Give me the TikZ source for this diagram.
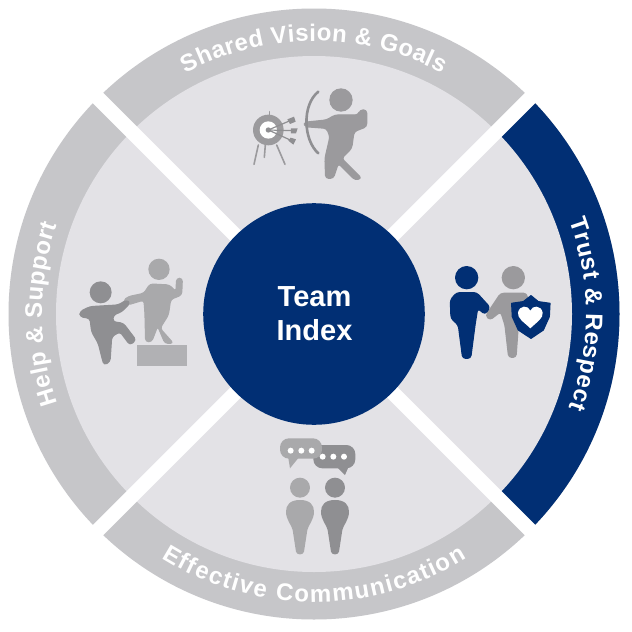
\documentclass[tikz,border=0pt]{standalone}
\usepackage{fontspec}
\setmainfont{Liberation Sans}
\definecolor{navy}{HTML}{012F74}
\definecolor{band}{HTML}{C6C6C9}
\definecolor{disc}{HTML}{E3E2E6}
\definecolor{gA}{HTML}{A9A9AB}
\definecolor{gB}{HTML}{8F8F92}
\definecolor{gC}{HTML}{9B9A9D}
\newcommand{\ringfont}{\fontsize{24}{24}\selectfont\bfseries}
\newlength\chw \newlength\totw \newlength\runw
\newcommand{\measurech}[1]{\settowidth{\chw}{\pgfinterruptpicture\ringfont#1\endpgfinterruptpicture}}
% radius, centre angle, direction, tracking, characters
\newcommand{\arclabel}[5]{%
  \global\totw=0pt
  \foreach \ch in {#5}{\measurech{\ch}\global\advance\totw by \chw\relax\global\advance\totw by #4pt\relax}%
  \global\runw=-0.5\totw
  \foreach \ch in {#5}{%
    \measurech{\ch}%
    \pgfmathsetmacro\mymid{\runw+0.5*\chw+0.5*#4}%
    \pgfmathsetmacro\myang{#2-#3*(\mymid/#1)*180/pi}%
    \pgfmathsetmacro\myrot{\myang-#3*90}%
    \node[anchor=base,inner sep=0pt,text=white,font=\ringfont,rotate=\myrot] at ({314+#1*cos(\myang)},{314-#1*sin(\myang)}) {\ch};
    \global\advance\runw by \chw\relax
    \global\advance\runw by #4pt\relax
  }%
}
\newcommand{\talkbody}[2]{%
  \fill[#2] (#1,210) .. controls (#1+30,210) and (#1+42,225) .. (#1+42,245) .. controls (#1+42,270) and (#1+25,285) .. (#1+22,300) -- (#1+12,365) .. controls (#1+10,376) and (#1-10,376) .. (#1-12,365) -- (#1-22,300) .. controls (#1-25,285) and (#1-42,270) .. (#1-42,245) .. controls (#1-42,225) and (#1-30,210) .. (#1,210) -- cycle;%
}
\tikzset{
  icon/.style={line join=round,line width=1.2pt,rounded corners=3pt},
  zoomA/.style={shift={(230,70)},x=.3333pt,y=-.3333pt},
  zoomB/.style={shift={(430,250)},x=.3333pt,y=-.3333pt},
  zoomC/.style={shift={(260,430)},x=.3333pt,y=-.3333pt},
  zoomD/.style={shift={(70,250)},x=.3333pt,y=-.3333pt}
}
\begin{document}
\begin{tikzpicture}[x=1pt,y=-1pt]
\useasboundingbox (0,0) rectangle (632,632);
\fill[white] (0,0) rectangle (632,632);
\coordinate (c) at (314,314);
\coordinate (nw) at (-6,-6);
\coordinate (se) at (634,634);
\coordinate (ne) at (634,-6);
\coordinate (sw) at (-6,634);
% ring
\fill[band] (c) circle[radius=305.5];
\begin{scope}
\clip (c) -- (714,-86) -- (714,714) -- cycle;
\fill[navy] (c) circle[radius=305.5];
\end{scope}
\fill[disc] (c) circle[radius=258];
% white cross
\draw[white,line width=14.5pt] (nw) -- (se);
\draw[white,line width=14.5pt] (ne) -- (sw);
\node[circle,fill=navy,minimum size=221.6pt,inner sep=0pt] (hub) at (c) {};
\node[text=white,align=center,font=\fontsize{29}{34}\selectfont\bfseries] (hublabel) at (314.5,314) {Team\\Index};
% curved labels
\arclabel{273}{90}{1}{0.5}{S,h,a,r,e,d,\ ,V,i,s,i,o,n,\ ,\&,\ ,G,o,a,l,s}
\arclabel{272}{0}{1}{0.55}{T,r,u,s,t,\ ,\&,\ ,R,e,s,p,e,c,t}
\arclabel{272}{180}{1}{0.6}{H,e,l,p,\ ,\&,\ ,S,u,p,p,o,r,t}
\arclabel{288}{-90}{-1}{1.55}{E,f,f,e,c,t,i,v,e,\ ,C,o,m,m,u,n,i,c,a,t,i,o,n}
% archer
\begin{scope}[zoomA]
\fill[gC] (333,90) circle[radius=35];
\filldraw[gC,icon] (222,157) -- (290,150) -- (315,135) -- (385,135) -- (390,120) -- (410,120) -- (410,170) -- (372,185) -- (365,235) -- (335,265) -- (395,325) -- (375,330) -- (325,280) -- (310,325) -- (287,325) -- (285,265) -- (300,200) -- (290,175) -- (225,170) -- cycle;
\draw[gB,line width=2.6pt,line cap=round] (265,65) .. controls (215,105) and (220,210) .. (265,250);
\fill[gC] (115,180) circle[radius=46];
\fill[white] (115,180) circle[radius=26];
\draw[gC,line width=1.6pt,line cap=round] (85,225) -- (72,283);
\draw[gC,line width=1.6pt,line cap=round] (106,225) -- (103,262);
\draw[gC,line width=1.6pt,line cap=round] (140,225) -- (165,283);
\draw[gC,line width=1.6pt,line cap=round] (118,125) -- (118,135);
\draw[gB,line width=1.2pt] (115,180) -- (180,152);
\draw[gB,line width=1.2pt] (115,180) -- (195,182);
\draw[gB,line width=1.2pt] (115,180) -- (185,212);
\fill[gB] (115,180) circle[radius=8];
\fill[gB] (172,148) -- (192,140) -- (197,155) -- (180,162) -- cycle;
\fill[gB] (183,175) -- (203,175) -- (198,190) -- (183,190) -- cycle;
\fill[gB] (175,212) -- (182,203) -- (198,208) -- (190,224) -- cycle;
\end{scope}
% trust
\begin{scope}[zoomB]
\fill[gC] (250,83) circle[radius=35];
\filldraw[gC,icon] (212,130) -- (290,130) -- (300,200) -- (265,225) -- (258,322) -- (236,322) -- (225,225) -- (212,185) -- (180,210) -- (167,197) -- cycle;
\fill[navy] (110,83) circle[radius=35];
\filldraw[navy,icon] (80,128) -- (140,128) -- (180,172) -- (165,193) -- (143,175) -- (135,225) -- (122,325) -- (98,325) -- (85,225) -- (63,205) -- (61,150) -- cycle;
\filldraw[navy,line join=round,line width=1.2pt] (303,137) -- (325,155) -- (360,160) -- (358,200) -- (340,240) -- (303,265) -- (265,240) -- (247,200) -- (245,160) -- (280,155) -- cycle;
\fill[white] (301,235) .. controls (280,215) and (262,205) .. (264,188) .. controls (268,165) and (295,165) .. (301,182) .. controls (307,165) and (334,165) .. (338,188) .. controls (340,205) and (322,215) .. (301,235) -- cycle;
\end{scope}
% communication
\begin{scope}[zoomC]
\fill[gB,rounded corners=9pt] (160,45) rectangle (286,115);
\fill[gB] (232,112) -- (255,135) -- (266,110) -- cycle;
\fill[gA,rounded corners=9pt] (60,25) rectangle (186,86);
\fill[gA] (85,84) -- (90,115) -- (115,84) -- cycle;
\foreach \px/\py in {92/62,124/62,155/62,188/80,220/80,252/80}{\fill[white] (\px,\py) circle[radius=9];}
\fill[gA] (120,173) circle[radius=30];
\fill[gB] (225,173) circle[radius=30];
\talkbody{120}{gA}
\talkbody{225}{gB}
\end{scope}
% help
\begin{scope}[zoomD]
\fill[gA] (267,58) circle[radius=32];
\filldraw[gA,icon] (160,152) -- (175,140) -- (222,130) -- (240,102) -- (298,105) -- (318,125) -- (320,85) -- (337,85) -- (335,135) -- (302,148) -- (295,195) -- (270,235) -- (310,280) -- (285,280) -- (263,228) -- (245,275) -- (227,275) -- (225,190) -- (222,150) -- (172,165) -- cycle;
\fill[gA!90!white] (200,285) rectangle (350,347);
\fill[gB] (92,127) circle[radius=33];
\filldraw[gB,icon] (30,185) -- (60,170) -- (145,165) -- (170,150) -- (180,160) -- (155,185) -- (130,195) -- (128,215) -- (160,220) -- (198,270) -- (180,285) -- (150,245) -- (125,260) -- (120,335) -- (102,345) -- (95,320) -- (85,280) -- (65,245) -- (60,205) -- (30,200) -- cycle;
\end{scope}
\end{tikzpicture}
\end{document}
